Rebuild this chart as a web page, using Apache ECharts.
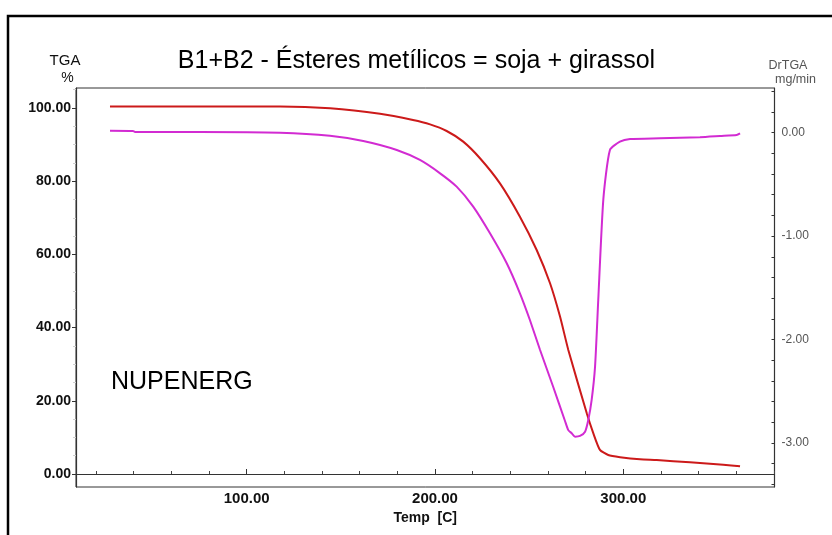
<!DOCTYPE html>
<html>
<head>
<meta charset="utf-8">
<script src="https://cdn.jsdelivr.net/npm/echarts@6/dist/echarts.min.js"></script>
<style>
  html, body { margin: 0; padding: 0; background: #ffffff; }
  #chart { width: 832px; height: 535px; }
</style>
</head>
<body>
<div id="chart"></div>
<script>
// ---- Data ----
// TGA curve (temperature in C, mass in %)
var tgaTemp = [27.4, 75.2, 117.7, 144.3, 170.8, 188.3, 197.4, 206.2, 215.0, 224.0, 234.5, 245.1, 254.0, 261.1, 266.4, 270.8, 280.6, 284.1, 287.6, 292.0, 298.3, 308.9, 317.7, 335.4, 353.1, 362.0];
var tgaValues = [100.4, 100.4, 100.4, 99.9, 98.4, 96.7, 95.5, 93.7, 90.8, 86.2, 79.4, 70.3, 61.2, 52.1, 43.0, 33.9, 16.6, 11.1, 6.6, 5.2, 4.6, 4.0, 3.8, 3.2, 2.5, 2.1];
// DrTGA curve (temperature in C, mg/min)
var drTemp = [27.4, 39.6, 40.7, 75.2, 117.7, 144.2, 161.9, 179.7, 192.0, 202.7, 211.5, 220.3, 229.2, 238.1, 245.1, 250.4, 255.8, 262.8, 269.0, 270.8, 272.6, 274.4, 277.0, 279.7, 281.4, 283.2, 285.0, 286.7, 289.4, 292.9, 298.2, 303.6, 319.5, 340.7, 351.4, 360.2, 362.0];
var drValues = [0.019, 0.016, 0.007, 0.007, 0.0, -0.029, -0.080, -0.167, -0.264, -0.393, -0.522, -0.715, -0.973, -1.263, -1.553, -1.811, -2.101, -2.459, -2.785, -2.876, -2.906, -2.939, -2.932, -2.891, -2.778, -2.584, -2.262, -1.618, -0.645, -0.167, -0.087, -0.061, -0.054, -0.044, -0.032, -0.022, -0.006];
// Tick labels
var xTickLabels = [100, 200, 300];
var xMinorTicks = [20, 40, 60, 80, 120, 140, 160, 180, 220, 240, 260, 280, 320, 340, 360, 380];
var leftTickLabels = [0, 20, 40, 60, 80, 100];
var leftMinorTicks = [5, 10, 15, 25, 30, 35, 45, 50, 55, 65, 70, 75, 85, 90, 95, 105];
var rightTickLabels = [0, -1, -2, -3];
var rightTicks = [0.4, 0.2, 0, -0.2, -0.4, -0.6, -0.8, -1.0, -1.2, -1.4, -1.6, -1.8, -2.0, -2.2, -2.4, -2.6, -2.8, -3.0, -3.2, -3.4];

var titleText = 'B1+B2 - Ésteres metílicos = soja + girassol';

function zip(a, b) { return a.map(function (v, i) { return [v, b[i]]; }); }
var FONT = 'Liberation Sans, Arial, sans-serif';
var fmt2 = function (v) { return Number(v).toFixed(2); };

var chart = echarts.init(document.getElementById('chart'), null, { renderer: 'canvas' });
var option = {
  backgroundColor: '#ffffff',
  animation: false,
  grid: { left: 76, top: 88, right: 57.5, bottom: 48, show: true, borderColor: '#333', borderWidth: 1, backgroundColor: 'transparent' },
  xAxis: [
    {
      type: 'value', min: 9.35, max: 380.3, position: 'bottom',
      axisLine: { show: true, lineStyle: { color: '#333', width: 1.2 } },
      axisTick: { show: true, inside: true, length: 5, customValues: xTickLabels, lineStyle: { color: '#333' } },
      axisLabel: { show: true, customValues: xTickLabels, formatter: fmt2, color: '#111', fontSize: 15, fontWeight: 'bold', fontFamily: FONT, margin: 4 },
      splitLine: { show: false },
      name: 'Temp  [C]', nameLocation: 'middle', nameGap: 22,
      nameTextStyle: { color: '#111', fontSize: 14, fontWeight: 'bold', fontFamily: FONT }
    },
    {
      type: 'value', min: 9.35, max: 380.3, position: 'bottom',
      axisLine: { show: false },
      axisTick: { show: true, inside: true, length: 3, customValues: xMinorTicks, lineStyle: { color: '#444' } },
      axisLabel: { show: false },
      splitLine: { show: false }
    }
  ],
  yAxis: [
    {
      type: 'value', min: -3.55, max: 105.45, position: 'left',
      axisLine: { show: true, lineStyle: { color: '#333', width: 1.2 } },
      axisTick: { show: true, inside: false, length: 4, customValues: leftTickLabels, lineStyle: { color: '#333' } },
      axisLabel: { show: true, customValues: leftTickLabels, formatter: fmt2, color: '#111', fontSize: 14, fontWeight: 'bold', fontFamily: FONT, margin: 5 },
      splitLine: { show: false }
    },
    {
      type: 'value', min: -3.55, max: 105.45, position: 'left',
      axisLine: { show: false },
      axisTick: { show: true, inside: false, length: 3, customValues: leftMinorTicks, lineStyle: { color: '#d0d0d0' } },
      axisLabel: { show: false },
      splitLine: { show: false }
    },
    {
      type: 'value', min: -3.426, max: 0.432, position: 'right',
      axisLine: { show: true, lineStyle: { color: '#333', width: 1.2 } },
      axisTick: { show: true, inside: true, length: 3, customValues: rightTicks, lineStyle: { color: '#333' } },
      axisLabel: { show: true, customValues: rightTickLabels, formatter: fmt2, color: '#555', fontSize: 12, fontFamily: FONT, margin: 7 },
      splitLine: { show: false }
    }
  ],
  series: [
    {
      name: 'TGA', type: 'line', xAxisIndex: 0, yAxisIndex: 0,
      data: zip(tgaTemp, tgaValues), showSymbol: false, smooth: 0.2,
      lineStyle: { color: '#cc1a1a', width: 2 }
    },
    {
      name: 'DrTGA', type: 'line', xAxisIndex: 0, yAxisIndex: 2,
      data: zip(drTemp, drValues), showSymbol: false, smooth: 0.2,
      lineStyle: { color: '#d22bd2', width: 2 }
    }
  ],
  graphic: [
    { type: 'rect', shape: { x: 8, y: 16, width: 900, height: 600 }, style: { fill: 'none', stroke: '#000', lineWidth: 2.5 }, silent: true },
    { type: 'text', x: 416.5, y: 61, style: { text: titleText, font: '25px ' + FONT, fill: '#000', textAlign: 'center', textVerticalAlign: 'middle' } },
    { type: 'text', x: 65, y: 60.5, style: { text: 'TGA', font: '15px ' + FONT, fill: '#111', textAlign: 'center', textVerticalAlign: 'middle' } },
    { type: 'text', x: 67.5, y: 78.5, style: { text: '%', font: '14px ' + FONT, fill: '#111', textAlign: 'center', textVerticalAlign: 'middle' } },
    { type: 'text', x: 788, y: 66, style: { text: 'DrTGA', font: '12.5px ' + FONT, fill: '#555', textAlign: 'center', textVerticalAlign: 'middle' } },
    { type: 'text', x: 795.5, y: 80, style: { text: 'mg/min', font: '12.5px ' + FONT, fill: '#555', textAlign: 'center', textVerticalAlign: 'middle' } },
    { type: 'text', x: 111, y: 382, style: { text: 'NUPENERG', font: '25px ' + FONT, fill: '#000', textAlign: 'left', textVerticalAlign: 'middle' } }
  ]
};
chart.setOption(option);
</script>
</body>
</html>
